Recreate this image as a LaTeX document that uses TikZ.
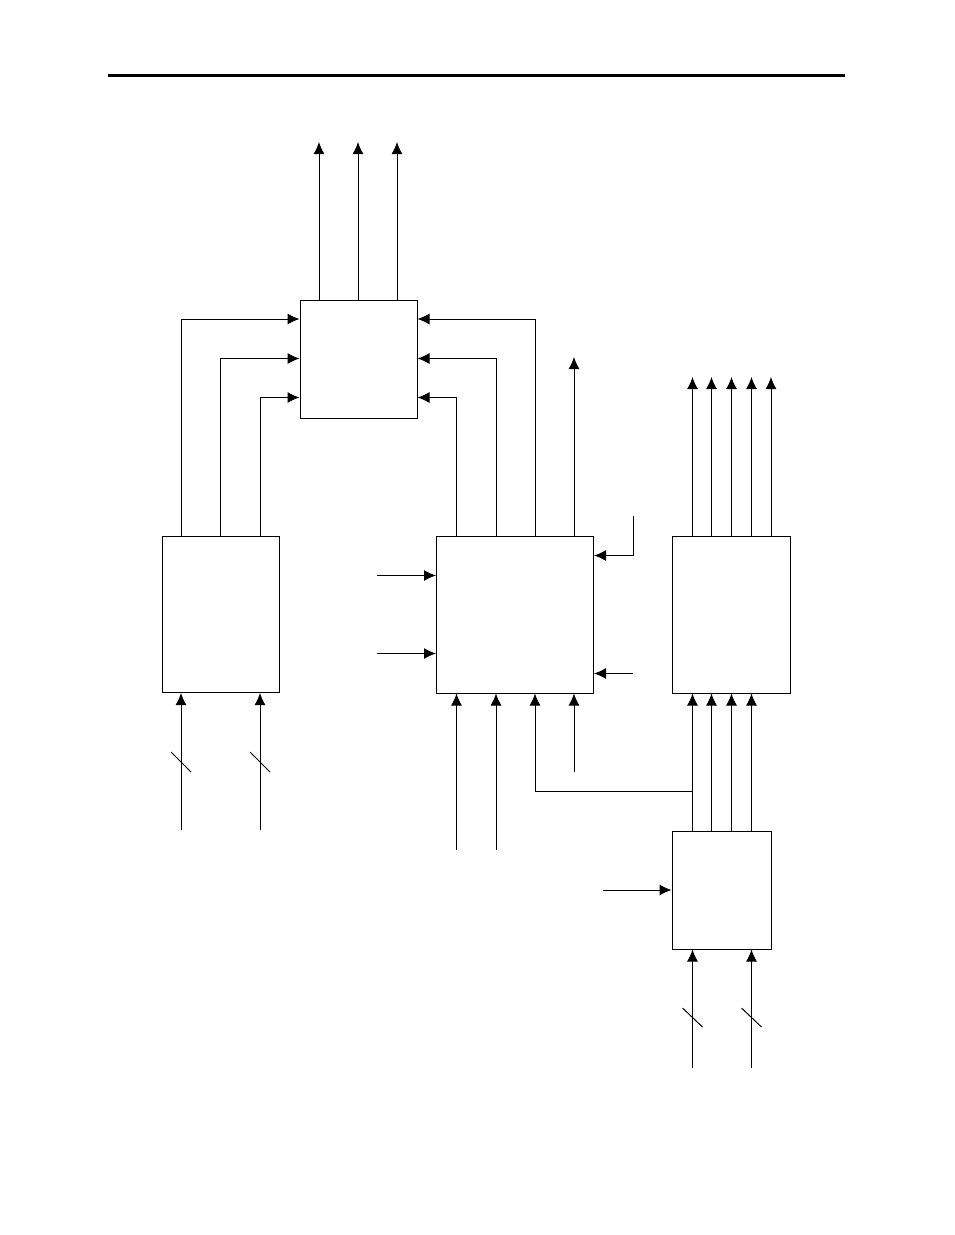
\documentclass[tikz,border=0pt]{standalone}
\usetikzlibrary{arrows.meta}
\begin{document}
\begin{tikzpicture}[x=1pt,y=-1pt,
  box/.style={draw,line width=1pt,inner sep=0pt,rectangle},
  ln/.style={line width=1pt},
  arr/.style={line width=1pt,-{Latex[length=12pt,width=11pt]}},
  slash/.style={line width=1pt}]
\useasboundingbox (0,0) rectangle (954,1235);
\draw[line width=3pt] (108,75) -- (845,75);
% boxes
\node[box,minimum width=117pt,minimum height=118pt] (A) at (358.5,359) {};
\node[box,minimum width=117pt,minimum height=156pt] (B) at (220.5,614.5) {};
\node[box,minimum width=157pt,minimum height=157pt] (C) at (515,614.5) {};
\node[box,minimum width=118pt,minimum height=157pt] (D) at (731.5,614.5) {};
\node[box,minimum width=99pt,minimum height=118pt] (E) at (721.5,890) {};
% outputs of A
\foreach \x/\n in {319/a1,358/a2,397/a3}{
  \coordinate (\n) at (\x,142);
  \draw[arr] (A.north -| \n) -- (\n);
}
% B to A
\draw[arr] (B.north -| 181,0) |- (A.west |- 0,319);
\draw[arr] (B.north -| 220.5,0) |- (A.west |- 0,358.5);
\draw[arr] (B.north -| 260,0) |- (A.west |- 0,397.5);
% C to A
\draw[arr] (C.north -| 535,0) |- (A.east |- 0,319);
\draw[arr] (C.north -| 496,0) |- (A.east |- 0,358.5);
\draw[arr] (C.north -| 456.5,0) |- (A.east |- 0,397.5);
% C output
\coordinate (c5) at (574,357);
\draw[arr] (C.north -| c5) -- (c5);
% B inputs
\foreach \x/\n in {181/b1,260/b2}{
  \coordinate (\n) at (\x,830);
  \draw[arr] (\n) -- (B.south -| \n);
  \draw[slash] (\x-10,752) -- (\x+10,772);
}
% C left inputs
\coordinate (cl1) at (377,575.5);
\coordinate (cl2) at (377,653.5);
\draw[arr] (cl1) -- (C.west |- cl1);
\draw[arr] (cl2) -- (C.west |- cl2);
% C right inputs
\coordinate (cr1) at (633,516);
\coordinate (cr2) at (633,673.5);
\draw[arr] (cr1) |- (C.east |- 0,555.5);
\draw[arr] (cr2) -- (C.east |- cr2);
% C bottom inputs
\coordinate (cb1) at (456.5,850);
\coordinate (cb2) at (496,850);
\coordinate (cb4) at (574,772);
\draw[arr] (cb1) -- (C.south -| cb1);
\draw[arr] (cb2) -- (C.south -| cb2);
\draw[arr] (cb4) -- (C.south -| cb4);
% D outputs
\foreach \x/\n in {692.5/d1,711.5/d2,731.5/d3,751.5/d4,771/d5}{
  \coordinate (\n) at (\x,377);
  \draw[arr] (D.north -| \n) -- (\n);
}
% E to D
\foreach \x in {692.5,711.5,731.5,751.5}{
  \draw[arr] (E.north -| \x,0) -- (D.south -| \x,0);
}
% branch to C
\coordinate (br) at (692.5,791);
\draw[arr] (br) -| (C.south -| 535,0);
% E inputs
\coordinate (el) at (603,890);
\draw[arr] (el) -- (E.west |- el);
\foreach \x/\n in {692.5/e1,751.5/e2}{
  \coordinate (\n) at (\x,1068);
  \draw[arr] (\n) -- (E.south -| \n);
  \draw[slash] (\x-10,1008) -- (\x+10,1027);
}
\end{tikzpicture}
\end{document}
